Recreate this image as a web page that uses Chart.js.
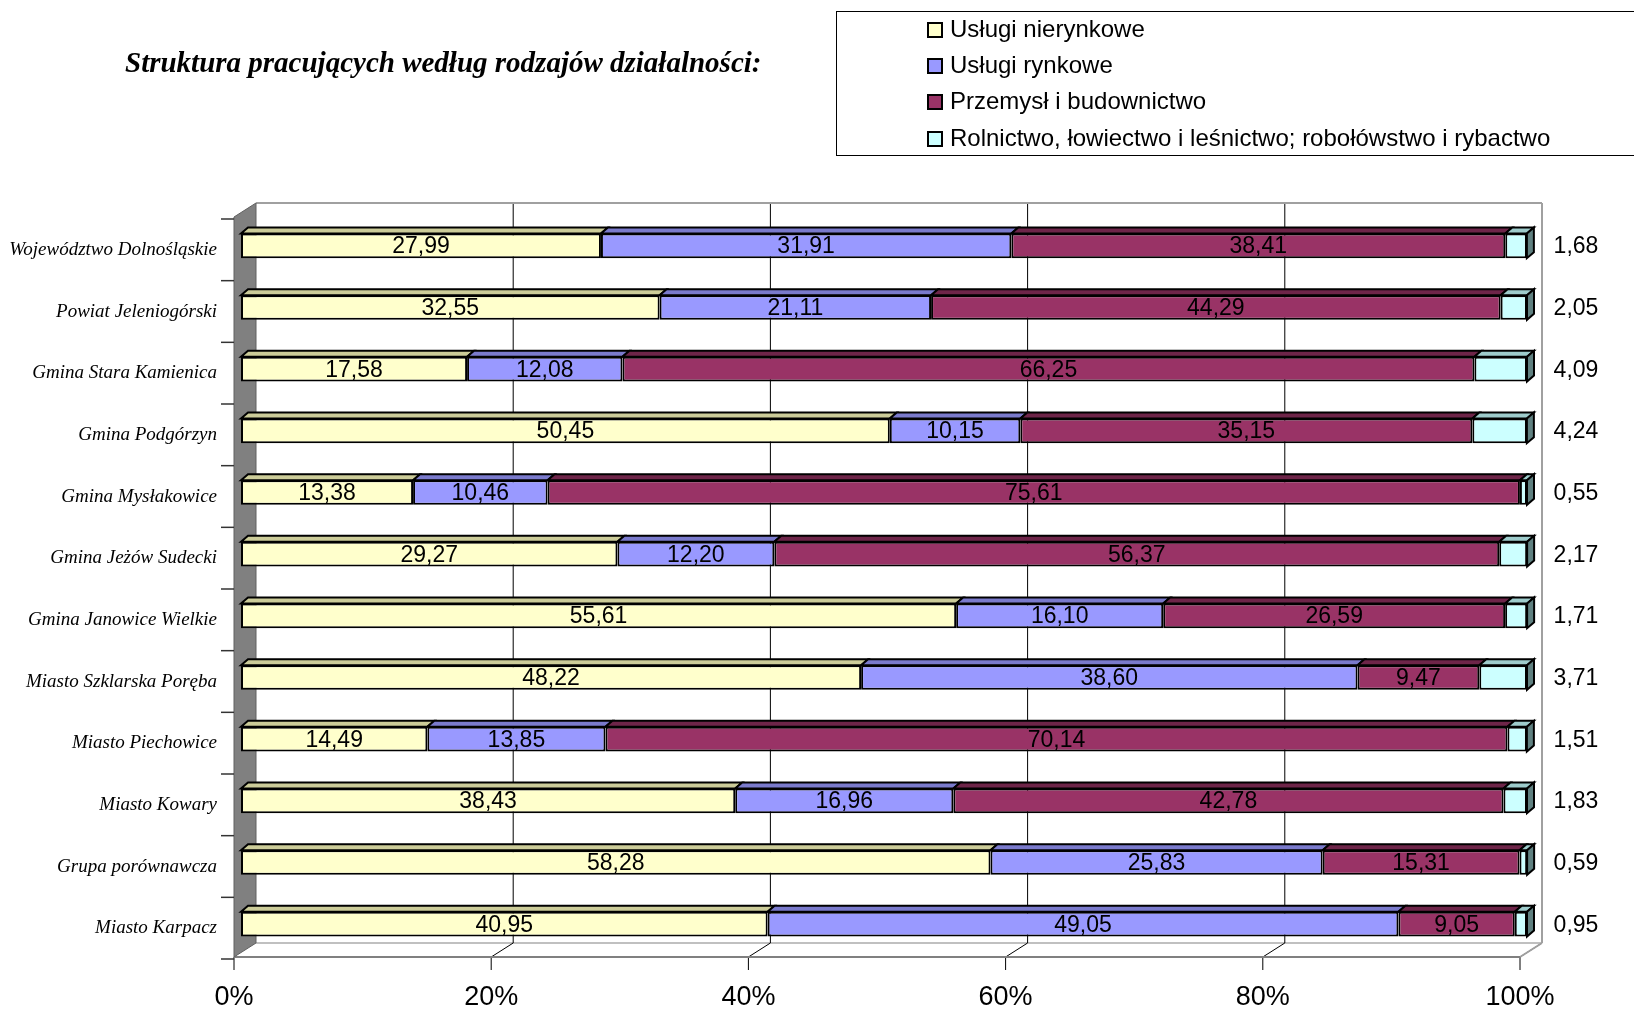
<!DOCTYPE html>
<html>
<head>
<meta charset="utf-8">
<script src="https://cdn.jsdelivr.net/npm/chart.js@4.4.1/dist/chart.umd.min.js"></script>
<style>
  body { margin: 0; background: #fff; }
  #wrap { position: relative; width: 1634px; height: 1011px; overflow: hidden; }
  canvas { position: absolute; left: 0; top: 0; }
  #title { position: absolute; left: 125px; top: 44px; font: italic bold 29px "Liberation Serif"; line-height: 36px; white-space: nowrap; }
  #legend { position: absolute; left: 836px; top: 11px; width: 840px; height: 143px; border: 1px solid #000; }
  .item { position: absolute; left: 90px; height: 30px; font: 24px "Liberation Sans"; line-height: 30px; white-space: nowrap; }
  .sw { position: absolute; left: 0; top: 8px; width: 12px; height: 12px; border: 2px solid #000; }
  .txt { position: absolute; left: 23px; top: 0; }
</style>
</head>
<body>
<div id="wrap">
  <canvas id="chart" width="1634" height="1011"></canvas>
  <div id="title">Struktura pracujących według rodzajów działalności:</div>
  <div id="legend"></div>
</div>
<script>
/**
 * Struktura pracujacych - 3D stacked bars (100%)
 */

let categories = [
    'Województwo Dolnośląskie', 'Powiat Jeleniogórski', 'Gmina Stara Kamienica',
    'Gmina Podgórzyn', 'Gmina Mysłakowice', 'Gmina Jeżów Sudecki',
    'Gmina Janowice Wielkie', 'Miasto Szklarska Poręba', 'Miasto Piechowice',
    'Miasto Kowary', 'Grupa porównawcza', 'Miasto Karpacz'
];
let seriesNames = [
    'Usługi nierynkowe', 'Usługi rynkowe', 'Przemysł i budownictwo',
    'Rolnictwo, łowiectwo i leśnictwo; robołówstwo i rybactwo'
];
let uslugiNierynkowe = [27.99, 32.55, 17.58, 50.45, 13.38, 29.27, 55.61, 48.22, 14.49, 38.43, 58.28, 40.95];
let uslugiRynkowe    = [31.91, 21.11, 12.08, 10.15, 10.46, 12.20, 16.10, 38.60, 13.85, 16.96, 25.83, 49.05];
let przemysl         = [38.41, 44.29, 66.25, 35.15, 75.61, 56.37, 26.59,  9.47, 70.14, 42.78, 15.31,  9.05];
let rolnictwo        = [ 1.68,  2.05,  4.09,  4.24,  0.55,  2.17,  1.71,  3.71,  1.51,  1.83,  0.59,  0.95];

let frontColors = ['#FFFFCC', '#9999FF', '#993366', '#CCFFFF'];
let topColors   = ['#CCCC99', '#7A7ACC', '#6E2549', '#9ECCCC'];
let sideColor   = '#5F8080';

// depth offsets
const FRONT = { dx: -7, dy: 2 };
const BACK  = { dx: 15, dy: -12 };
const BAR   = { dx: 7, dy: 6 };

const fmt = v => v.toFixed(2).replace('.', ',');

// legend (html)
let legendBox = document.getElementById('legend');
seriesNames.forEach((name, i) => {
    let item = document.createElement('div');
    item.className = 'item';
    item.style.top = (2 + i * 36.2) + 'px';
    item.innerHTML = '<span class="sw" style="background:' + frontColors[i] + '"></span><span class="txt">' + name + '</span>';
    legendBox.appendChild(item);
});

function poly(ctx, pts, fill, stroke, lw) {
    ctx.beginPath();
    ctx.moveTo(pts[0][0], pts[0][1]);
    for (let k = 1; k < pts.length; k++) ctx.lineTo(pts[k][0], pts[k][1]);
    ctx.closePath();
    if (fill) { ctx.fillStyle = fill; ctx.fill(); }
    if (stroke) { ctx.strokeStyle = stroke; ctx.lineWidth = lw || 1; ctx.stroke(); }
}

function line(ctx, x1, y1, x2, y2, color, lw) {
    ctx.beginPath();
    ctx.moveTo(x1, y1);
    ctx.lineTo(x2, y2);
    ctx.strokeStyle = color;
    ctx.lineWidth = lw;
    ctx.stroke();
}

const frame3d = {
    id: 'frame3d',
    beforeDatasetsDraw(chart) {
        const { ctx, chartArea: a, scales: { x } } = chart;
        const top = a.top, bot = a.bottom;
        const x0 = x.getPixelForValue(0), x1 = x.getPixelForValue(100);
        ctx.save();

        // floor
        poly(ctx, [[x0 + FRONT.dx, bot + FRONT.dy], [x1 + FRONT.dx, bot + FRONT.dy],
                   [x1 + BACK.dx, bot + BACK.dy], [x0 + BACK.dx, bot + BACK.dy]], '#fff');
        line(ctx, x0 + BACK.dx, bot + BACK.dy, x1 + BACK.dx, bot + BACK.dy, '#c0c0c0', 2);

        // grid lines on back wall + floor + ticks
        x.ticks.forEach(t => {
            const px = x.getPixelForValue(t.value);
            if (t.value > 0 && t.value < 100) {
                line(ctx, px + BACK.dx, top + BACK.dy, px + BACK.dx, bot + BACK.dy, '#000', 1);
            }
            if (t.value > 0) {
                line(ctx, px + BACK.dx, bot + BACK.dy, px + FRONT.dx, bot + FRONT.dy, '#000', 1);
            }
            line(ctx, px + FRONT.dx, bot + FRONT.dy, px + FRONT.dx, bot + FRONT.dy + 13, '#000', 1);
        });

        // back wall border
        line(ctx, x0 + BACK.dx, top + BACK.dy, x1 + BACK.dx, top + BACK.dy, '#a0a0a0', 2);
        line(ctx, x1 + BACK.dx, top + BACK.dy, x1 + BACK.dx, bot + BACK.dy, '#a0a0a0', 2);
        line(ctx, x1 + BACK.dx, bot + BACK.dy, x1 + FRONT.dx, bot + FRONT.dy, '#a0a0a0', 2);
        line(ctx, x0 + FRONT.dx, bot + FRONT.dy, x1 + FRONT.dx, bot + FRONT.dy, '#808080', 2);

        // left wall
        poly(ctx, [[x0 + FRONT.dx, top + FRONT.dy], [x0 + BACK.dx, top + BACK.dy],
                   [x0 + BACK.dx, bot + BACK.dy], [x0 + FRONT.dx, bot + FRONT.dy]], '#808080', '#606060', 1);

        // category ticks
        const band = (bot - top) / categories.length;
        for (let k = 0; k <= categories.length; k++) {
            const py = top + k * band + 4;
            line(ctx, x0 + FRONT.dx - 13, py, x0 + FRONT.dx, py, '#333', 1.5);
        }
        ctx.restore();
    },
    afterDatasetsDraw(chart) {
        const { ctx, chartArea: a } = chart;
        const n = chart.data.datasets.length;
        ctx.save();
        ctx.lineJoin = 'miter';
        chart.data.labels.forEach((_, i) => {
            for (let d = 0; d < n; d++) {
                const el = chart.getDatasetMeta(d).data[i];
                const t = el.y - el.height / 2, b = el.y + el.height / 2;
                const l = Math.min(el.x, el.base), r = Math.max(el.x, el.base);
                poly(ctx, [[l, t], [r, t], [r + BAR.dx, t - BAR.dy], [l + BAR.dx, t - BAR.dy]], topColors[d], '#000', 2);
                if (d === n - 1) {
                    poly(ctx, [[r, t], [r + BAR.dx, t - BAR.dy], [r + BAR.dx, b - BAR.dy], [r, b]], sideColor, '#000', 2);
                }
            }
        });

        // value labels
        ctx.font = '23px "Liberation Sans"';
        ctx.fillStyle = '#000';
        ctx.textAlign = 'center';
        ctx.textBaseline = 'middle';
        chart.data.datasets.forEach((ds, d) => {
            chart.getDatasetMeta(d).data.forEach((el, i) => {
                const v = ds.data[i];
                if (d === n - 1) {
                    ctx.fillText(fmt(v), a.right + 49, el.y + 1);
                } else {
                    ctx.fillText(fmt(v), (el.x + el.base) / 2, el.y + 1);
                }
            });
        });
        ctx.restore();
    }
};

let seriesData = [uslugiNierynkowe, uslugiRynkowe, przemysl, rolnictwo];

let chart = new Chart(document.getElementById('chart').getContext('2d'), {
    type: 'bar',
    data: {
        labels: categories,
        datasets: seriesData.map((arr, i) => ({
            label: seriesNames[i],
            data: arr,
            backgroundColor: frontColors[i],
            borderColor: '#000',
            borderWidth: 2,
            borderSkipped: false,
            barPercentage: 0.4,
            categoryPercentage: 1.0
        }))
    },
    options: {
        indexAxis: 'y',
        responsive: false,
        animation: false,
        layout: {
            padding: { top: 215, right: 107, left: 0, bottom: 0 }
        },
        plugins: {
            title: { display: false },
            legend: { display: false },
            tooltip: { enabled: false }
        },
        scales: {
            x: {
                stacked: true,
                min: 0,
                max: 100,
                grid: { display: false, drawTicks: false },
                border: { display: false },
                ticks: {
                    stepSize: 20,
                    padding: 26,
                    labelOffset: -7,
                    color: '#000',
                    font: { family: 'Liberation Sans', size: 27 },
                    callback: v => v + '%'
                },
                afterFit: s => { s.height = 56; }
            },
            y: {
                stacked: true,
                grid: { display: false, drawTicks: false },
                border: { display: false },
                ticks: {
                    padding: 24,
                    labelOffset: 4,
                    color: '#000',
                    font: { family: 'Liberation Serif', size: 19, style: 'italic' }
                },
                afterFit: s => { s.width = 241; }
            }
        }
    },
    plugins: [frame3d]
});
</script>
</body>
</html>
